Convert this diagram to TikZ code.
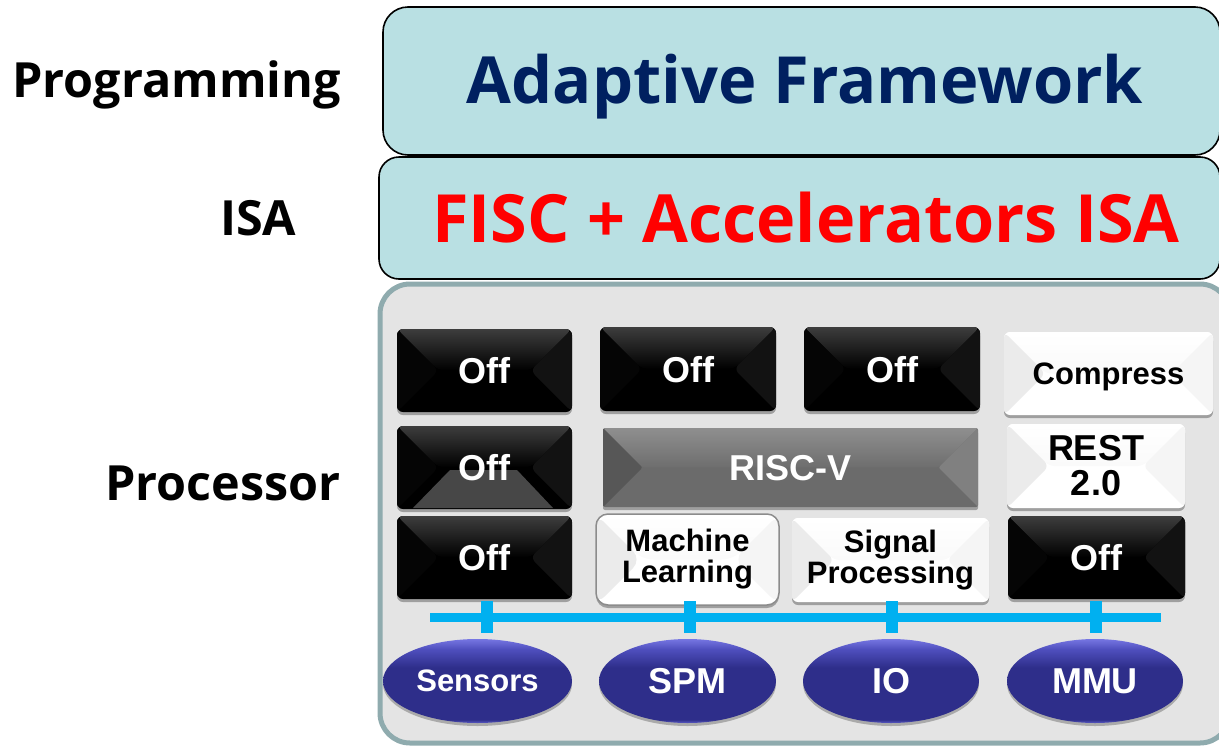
\documentclass[tikz,border=0pt]{standalone}
\usepackage{fontspec}
\setmainfont{Liberation Sans}
\newfontfamily\headfont{Open Sans}
\usetikzlibrary{shapes.geometric,shadows,calc}

\definecolor{layerfill}{HTML}{B9E0E3}
\definecolor{framenavy}{HTML}{002060}
\definecolor{isared}{HTML}{FF0000}
\definecolor{procfill}{HTML}{E4E4E4}
\definecolor{procedge}{HTML}{8FABAE}
\definecolor{busblue}{HTML}{00B0F0}
\definecolor{ovbase}{HTML}{2E2E8A}
\definecolor{ovtop}{HTML}{7676E2}
\definecolor{ovhi}{HTML}{4F4FBE}
\definecolor{ovrim}{HTML}{5B5BC6}

% glossy fill of the ellipses (bottom to top)
\pgfdeclareverticalshading{ovalshade}{100bp}{%
  color(0bp)=(ovrim); color(25bp)=(ovrim); color(27bp)=(ovbase);
  color(58bp)=(ovbase); color(69bp)=(ovhi); color(75bp)=(ovtop); color(100bp)=(ovtop)}

\tikzset{
  layer/.style={draw=black, line width=1.6pt, fill=layerfill, inner sep=0pt, outer sep=0pt},
  sidelabel/.style={font=\headfont\bfseries\fontsize{48.5}{58}\selectfont, anchor=base west, inner sep=0pt},
  layertext/.style={font=\headfont\bfseries\fontsize{65}{76}\selectfont, anchor=base, inner sep=0pt},
  % pyramid-like bevel: shaded top face, flat left and right faces
  bevel/.style n args={4}{path picture={
    \path let \p1=(path picture bounding box.south west),
              \p2=(path picture bounding box.north east),
              \n1={0.5*(\y2-\y1)} in
      (\x1,\y2) coordinate (bv-nw) (\x2,\y2) coordinate (bv-ne)
      (\x1,\y1) coordinate (bv-sw) (\x2,\y1) coordinate (bv-se)
      (\x1+\n1,\y1+\n1) coordinate (bv-l) (\x2-\n1,\y1+\n1) coordinate (bv-r);
    \shade[top color=#1, bottom color=#2] (bv-nw) -- (bv-ne) -- (bv-r) -- (bv-l) -- cycle;
    \fill[#3] (bv-nw) -- (bv-l) -- (bv-sw) -- cycle;
    \fill[#4] (bv-ne) -- (bv-r) -- (bv-se) -- cycle;
  }},
  unit/.style={inner sep=0pt, outer sep=0pt, rounded corners=6pt, align=center,
    drop shadow={shadow xshift=0pt, shadow yshift=-3pt, opacity=0.3, fill=black}},
  offbox/.style={unit, fill=black, text=white, minimum width=175pt, minimum height=83pt,
    font=\bfseries\fontsize{36}{40}\selectfont, text depth=0pt,
    bevel={black!76}{black}{black!98}{black!93}},
  greybox/.style={unit, rounded corners=2pt, fill=black!58, text=white,
    font=\bfseries\fontsize{36}{40}\selectfont, text depth=0pt,
    bevel={black!44}{black!57}{black!66}{black!50}},
  whitebox/.style={unit, fill=white, text=black,
    font=\bfseries\fontsize{31}{31}\selectfont,
    bevel={white}{black!2}{black!8}{black!4}},
  offtext/.style={text=white, font=\bfseries\fontsize{36}{40}\selectfont, inner sep=0pt},
  unitbus/.style={ellipse, inner sep=0pt, outer sep=0pt, shading=ovalshade, text=white,
    font=\bfseries\fontsize{36}{40}\selectfont,
    drop shadow={shadow xshift=0pt, shadow yshift=-3pt, opacity=0.25, fill=black}},
  bus/.style={draw=busblue, line width=9pt},
  tap/.style={draw=busblue, line width=11.5pt},
}

\begin{document}
\begin{tikzpicture}[x=1pt,y=-1pt]
\useasboundingbox (0,0) rectangle (1219,745);
\clip (0,0) rectangle (1219,745);
\fill[white] (0,0) rectangle (1219,745);

% stacked layers
\node[layer, rounded corners=25pt, minimum width=837pt, minimum height=148pt] (prog) at (801.5,81) {};
\node[layer, rounded corners=20pt, minimum width=841pt, minimum height=122pt] (isa) at (799.5,218) {};
\node[draw=procedge, line width=5pt, fill=procfill, rounded corners=30pt, inner sep=0pt, outer sep=0pt,
      minimum width=850pt, minimum height=459pt] (proc) at (805,513.5) {};

\node[layertext, text=framenavy] (progtxt) at (805,103) {Adaptive Framework};
\node[layertext, text=isared, font=\headfont\bfseries\fontsize{66.5}{76}\selectfont] (isatxt) at (806,242) {FISC + Accelerators ISA};

% side labels
\node[sidelabel] (lprog) at (12,97) {Programming};
\node[sidelabel] (lisa) at (220,235) {ISA};
\node[sidelabel] (lproc) at (105,500) {Processor};

% row 1
\node[offbox] (off1) at (484.5,370.5) {Off};
\node[offbox, minimum width=176pt, minimum height=84pt] (off2) at (688,369) {Off};
\node[offbox, minimum width=176pt, minimum height=84pt] (off3) at (892,369) {Off};
\node[whitebox, minimum width=209pt, minimum height=83pt, text depth=0pt] (comp) at (1108.5,373.5) {Compress};

% row 2
\node[offbox] (off4) at (484.5,467.5) {};
\fill[black!72] (450,470) -- (517,470) -- (553,508) -- (413,508) -- cycle;
\node[offtext] (off4txt) at (off4) {Off};
\node[greybox, minimum width=375pt, minimum height=79pt] (riscv) at (790.5,467.5) {RISC-V};
\node[whitebox, minimum width=178pt, minimum height=84pt,
      font=\bfseries\fontsize{36}{35}\selectfont] (rest) at (1096,466) {REST\\2.0};

% row 3
\node[offbox] (off5) at (484.5,557.5) {Off};
\node[whitebox, rounded corners=12pt, draw=black!45, line width=1.5pt,
      minimum width=183pt, minimum height=91pt] (ml) at (687.5,559.5) {Machine\\Learning};
\node[whitebox, minimum width=197pt, minimum height=84pt] (sp) at (890.5,560) {Signal\\Processing};
\node[offbox, minimum width=177pt] (off6) at (1096.5,557.5) {Off};

% shared bus and its taps
\coordinate (busL) at (430,617);
\coordinate (busR) at (1161,617);
\draw[bus] (busL) -- (busR);
\foreach \n/\x in {1/487,2/690,3/892,4/1096}{
  \coordinate (tapT\n) at (\x,601);
  \coordinate (tapB\n) at (\x,633);
  \draw[tap] (tapT\n) -- (tapB\n);
}

% bus units
\node[unitbus, minimum width=189pt, minimum height=84pt, font=\bfseries\fontsize{31}{34}\selectfont] (sens) at (477.5,681) {Sensors};
\node[unitbus, minimum width=177pt, minimum height=84pt] (spm) at (687.5,681) {SPM};
\node[unitbus, minimum width=176pt, minimum height=84pt] (io) at (891,681) {IO};
\node[unitbus, minimum width=176pt, minimum height=84pt] (mmu) at (1095,681) {MMU};
\end{tikzpicture}
\end{document}
